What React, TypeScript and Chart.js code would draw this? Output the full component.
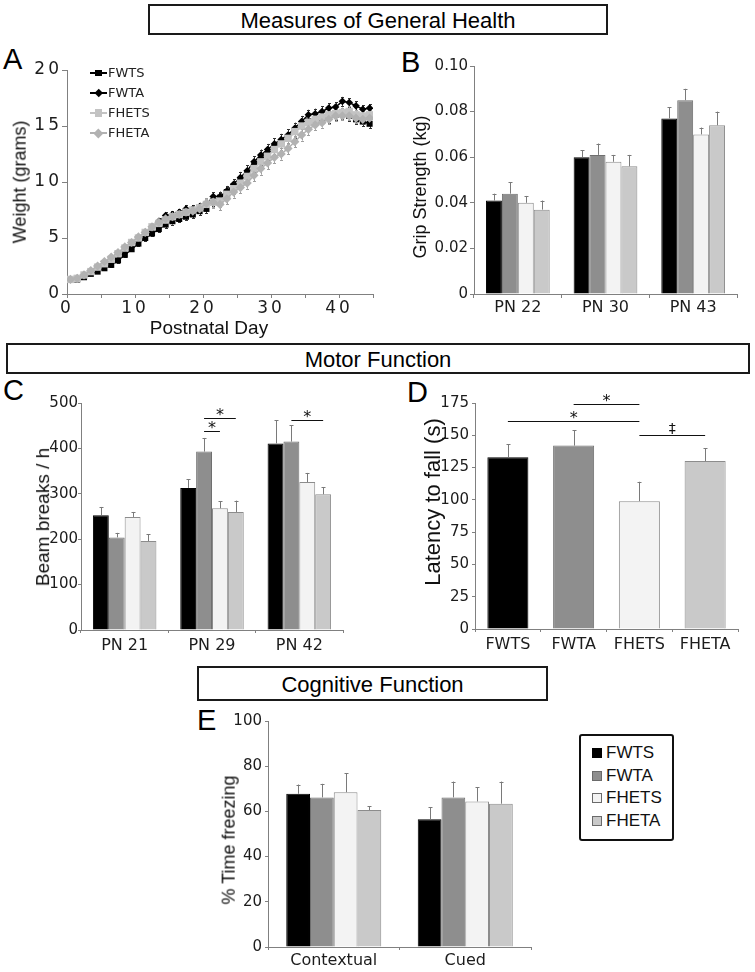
import React, { useEffect, useRef } from 'react';
import { Chart, registerables } from 'chart.js';

Chart.register(...registerables);

const TICK_FONT = 'DejaVu Sans';
const TITLE_FONT = 'Liberation Sans';
Chart.defaults.font.family = TICK_FONT;

// ---------------- data ----------------
const groupNames = ['FWTS', 'FWTA', 'FHETS', 'FHETA'];

// Panel A: body weight by postnatal day
const postnatalDays = [0, 1, 2, 3, 4, 5, 6, 7, 8, 9, 10, 11, 12, 13, 14, 15, 16, 17, 18, 19, 20, 21, 22, 23, 24, 25, 26, 27, 28, 29, 30, 31, 32, 33, 34, 35, 36, 37, 38, 39, 40, 41, 42, 43, 44];
const weightFWTS = [1.3, 1.3, 1.5, 1.8, 2.0, 2.3, 2.6, 3.0, 3.5, 4.0, 4.5, 5.0, 5.4, 5.8, 6.2, 6.5, 6.7, 6.9, 7.1, 7.4, 7.6, 8.3, 8.6, 9.1, 9.6, 10.1, 10.7, 11.4, 12.0, 12.5, 13.0, 13.4, 13.9, 14.5, 15.0, 15.4, 15.6, 15.7, 15.8, 16.0, 16.1, 15.9, 15.6, 15.4, 15.2];
const weightFWTA = [1.3, 1.4, 1.6, 1.9, 2.3, 2.7, 3.1, 3.5, 4.0, 4.5, 5.0, 5.5, 6.0, 6.5, 7.0, 7.1, 7.3, 7.6, 7.6, 7.8, 8.0, 8.7, 8.7, 9.2, 9.8, 10.4, 11.0, 11.8, 12.4, 12.9, 13.4, 13.8, 14.2, 14.8, 15.4, 16.0, 16.1, 16.3, 16.6, 16.7, 17.2, 17.1, 16.8, 16.5, 16.6];
const weightFHETS = [1.3, 1.4, 1.7, 2.0, 2.4, 2.7, 3.1, 3.6, 4.1, 4.6, 5.0, 5.5, 6.0, 6.3, 6.6, 6.9, 7.1, 7.3, 7.5, 7.7, 8.0, 8.2, 8.3, 8.9, 9.4, 9.9, 10.5, 11.2, 11.8, 12.3, 12.9, 13.4, 13.9, 14.5, 15.0, 15.3, 15.6, 15.8, 16.0, 16.1, 16.2, 16.3, 16.0, 15.9, 16.0];
const weightFHETA = [1.3, 1.4, 1.7, 2.1, 2.5, 2.9, 3.3, 3.7, 4.2, 4.6, 5.1, 5.5, 6.0, 6.4, 6.7, 6.9, 7.1, 7.3, 7.4, 7.6, 8.1, 8.2, 8.0, 8.5, 9.1, 9.5, 9.9, 10.6, 11.2, 11.7, 12.2, 12.5, 13.0, 13.6, 14.2, 14.7, 15.1, 15.3, 15.6, 15.9, 15.9, 15.9, 15.7, 15.6, 15.7];
const weightErrFWTS = [0.1, 0.1, 0.1, 0.1, 0.15, 0.15, 0.15, 0.2, 0.2, 0.2, 0.2, 0.25, 0.25, 0.25, 0.3, 0.3, 0.3, 0.3, 0.35, 0.35, 0.4, 0.4, 0.4, 0.45, 0.45, 0.45, 0.5, 0.5, 0.5, 0.5, 0.5, 0.5, 0.55, 0.55, 0.55, 0.5, 0.5, 0.5, 0.5, 0.5, 0.5, 0.45, 0.45, 0.4, 0.4];
const weightErrFWTA = [0.1, 0.1, 0.1, 0.15, 0.15, 0.15, 0.2, 0.2, 0.2, 0.25, 0.25, 0.25, 0.3, 0.3, 0.3, 0.3, 0.3, 0.35, 0.35, 0.35, 0.4, 0.4, 0.45, 0.45, 0.45, 0.5, 0.5, 0.5, 0.5, 0.5, 0.5, 0.5, 0.5, 0.5, 0.5, 0.45, 0.45, 0.45, 0.45, 0.4, 0.4, 0.4, 0.4, 0.35, 0.35];
const weightErrFHETS = [0.1, 0.1, 0.1, 0.1, 0.15, 0.15, 0.2, 0.2, 0.2, 0.2, 0.25, 0.25, 0.3, 0.3, 0.3, 0.3, 0.35, 0.35, 0.35, 0.4, 0.45, 0.45, 0.5, 0.5, 0.5, 0.5, 0.5, 0.5, 0.5, 0.5, 0.5, 0.5, 0.5, 0.5, 0.5, 0.5, 0.5, 0.45, 0.45, 0.45, 0.45, 0.45, 0.4, 0.4, 0.4];
const weightErrFHETA = [0.1, 0.1, 0.1, 0.15, 0.15, 0.15, 0.2, 0.2, 0.25, 0.25, 0.25, 0.3, 0.3, 0.3, 0.3, 0.35, 0.35, 0.35, 0.35, 0.4, 0.45, 0.5, 0.5, 0.5, 0.5, 0.5, 0.5, 0.55, 0.55, 0.55, 0.5, 0.5, 0.5, 0.5, 0.5, 0.5, 0.45, 0.45, 0.45, 0.45, 0.4, 0.4, 0.4, 0.4, 0.4];
const weightTickLabels = ['0', '10', '20', '30', '40'];

// Panel B: grip strength (kg)
const gripDays = ['PN 22', 'PN 30', 'PN 43'];
const gripFWTS = [0.041, 0.060, 0.077];
const gripFWTA = [0.044, 0.061, 0.085];
const gripFHETS = [0.040, 0.058, 0.070];
const gripFHETA = [0.037, 0.056, 0.074];
const gripErrFWTS = [0.003, 0.003, 0.005];
const gripErrFWTA = [0.005, 0.005, 0.005];
const gripErrFHETS = [0.003, 0.003, 0.003];
const gripErrFHETA = [0.004, 0.005, 0.006];

// Panel C: beam breaks per hour
const beamDays = ['PN 21', 'PN 29', 'PN 42'];
const beamFWTS = [253, 313, 411];
const beamFWTA = [204, 393, 415];
const beamFHETS = [249, 268, 326];
const beamFHETA = [196, 260, 299];
const beamErrFWTS = [18, 19, 51];
const beamErrFWTA = [10, 30, 36];
const beamErrFHETS = [11, 16, 20];
const beamErrFHETA = [15, 25, 16];
const beamSig = [
  { fromSet: 1, fromIdx: 1, toSet: 2, toIdx: 1, level: 439, mark: '*' },
  { fromSet: 1, fromIdx: 1, toSet: 3, toIdx: 1, level: 466, mark: '*' },
  { fromSet: 1, fromIdx: 2, toSet: 3, toIdx: 2, level: 463, mark: '*' },
];

// Panel D: rotarod latency to fall (s)
const rotarodGroups = ['FWTS', 'FWTA', 'FHETS', 'FHETA'];
const rotarodMean = [133, 142, 99, 130];
const rotarodErr = [10, 12, 15, 10];
const rotarodSig = [
  { fromSet: 0, fromIdx: 0, toSet: 0, toIdx: 2, level: 161, mark: '*' },
  { fromSet: 0, fromIdx: 1, toSet: 0, toIdx: 2, level: 174, mark: '*' },
  { fromSet: 0, fromIdx: 2, toSet: 0, toIdx: 3, level: 150, mark: '‡' },
];

// Panel E: % time freezing
const fearTests = ['Contextual', 'Cued'];
const freezeFWTS = [67.8, 56.5];
const freezeFWTA = [66.2, 66.2];
const freezeFHETS = [68.5, 64.4];
const freezeFHETA = [60.6, 63.4];
const freezeErrFWTS = [4.1, 5.3];
const freezeErrFWTA = [6.0, 7.0];
const freezeErrFHETS = [8.4, 6.2];
const freezeErrFHETA = [1.6, 9.8];

// ---------------- styles ----------------
const barFill = ['#000000', '#8e8e8e', '#f3f3f3', '#c9c9c9'];
const barEdge = ['#000000', '#6f6f6f', '#8c8c8c', '#8c8c8c'];
const lineColor = ['#000000', '#000000', '#c3c3c3', '#b2b2b2'];
const lineErrColor = ['#333333', '#333333', '#a8a8a8', '#a0a0a0'];
const lineShape = ['rect', 'rectRot', 'rect', 'rectRot'];
const lineRadius = [4.3, 3.8, 5.2, 4.6];
const axisGrey = '#808080';
const tickInk = '#1c1c1c';

type Box = { cl: number; ct: number; cw: number; ch: number; pl: number; pt: number; pr: number; pb: number };

const boxA: Box = { cl: 0, ct: 40, cw: 390, ch: 300, pl: 67, pt: 70, pr: 373, pb: 294 };
const boxB: Box = { cl: 380, ct: 40, cw: 375, ch: 300, pl: 474, pt: 66, pr: 737, pb: 294 };
const boxC: Box = { cl: 0, ct: 380, cw: 380, ch: 285, pl: 81, pt: 403, pr: 343, pb: 630 };
const boxD: Box = { cl: 380, ct: 380, cw: 375, ch: 285, pl: 475, pt: 403, pr: 738, pb: 629 };
const boxE: Box = { cl: 180, ct: 705, cw: 380, ch: 267, pl: 268, pt: 721, pr: 531, pb: 947 };

// ---------------- plugins ----------------
const errorBars = {
  id: 'errorBars',
  beforeDatasetsDraw(chart: any, _a: any, opts: any) {
    if (opts && opts.under) drawErrors(chart, opts);
  },
  afterDatasetsDraw(chart: any, _a: any, opts: any) {
    if (!opts || !opts.under) drawErrors(chart, opts || {});
  },
};

function drawErrors(chart: any, opts: any) {
  const ctx = chart.ctx;
  const ys = chart.scales.y;
  const cap = opts.cap ?? 2;
  ctx.save();
  ctx.lineWidth = 1;
  chart.data.datasets.forEach((ds: any, di: number) => {
    if (!ds.errors) return;
    const meta = chart.getDatasetMeta(di);
    meta.data.forEach((el: any, i: number) => {
      const raw = ds.data[i];
      const v = typeof raw === 'number' ? raw : raw.y;
      const e = ds.errors[i];
      const x = Math.round(el.x) + 0.5;
      const yTop = ys.getPixelForValue(v + e);
      const yBot = opts.both ? ys.getPixelForValue(v - e) : el.y;
      ctx.strokeStyle = ds.errorColor || '#7a7a7a';
      ctx.beginPath();
      ctx.moveTo(x, yBot);
      ctx.lineTo(x, yTop);
      ctx.moveTo(x - cap, Math.round(yTop) + 0.5);
      ctx.lineTo(x + cap, Math.round(yTop) + 0.5);
      if (opts.both) {
        ctx.moveTo(x - cap, Math.round(yBot) + 0.5);
        ctx.lineTo(x + cap, Math.round(yBot) + 0.5);
      }
      ctx.stroke();
    });
  });
  ctx.restore();
}

const sigBars = {
  id: 'sigBars',
  afterDatasetsDraw(chart: any, _a: any, opts: any) {
    const items = (opts && opts.items) || [];
    const ctx = chart.ctx;
    ctx.save();
    items.forEach((it: any) => {
      const x0 = chart.getDatasetMeta(it.fromSet).data[it.fromIdx].x;
      const x1 = chart.getDatasetMeta(it.toSet).data[it.toIdx].x;
      const y = Math.round(chart.scales.y.getPixelForValue(it.level)) + 0.5;
      ctx.strokeStyle = '#111';
      ctx.lineWidth = 1;
      ctx.beginPath();
      ctx.moveTo(x0, y);
      ctx.lineTo(x1, y);
      ctx.stroke();
      ctx.fillStyle = '#111';
      ctx.textAlign = 'center';
      ctx.textBaseline = 'alphabetic';
      if (it.mark === '*') {
        ctx.font = `16px ${TICK_FONT}`;
        ctx.fillText(it.mark, (x0 + x1) / 2, y + 1);
      } else {
        ctx.font = `14px ${TICK_FONT}`;
        ctx.fillText(it.mark, (x0 + x1) / 2, y - 3);
      }
    });
    ctx.restore();
  },
};

const spacedText = {
  id: 'spacedText',
  beforeDraw(chart: any, _a: any, opts: any) {
    if (opts && opts.spacing) (chart.ctx as any).letterSpacing = opts.spacing;
  },
  afterDraw(chart: any) {
    (chart.ctx as any).letterSpacing = '0px';
  },
};

// ---------------- axis builders ----------------
function yAxis(b: Box, min: number, max: number, step: number, size: number, tl: number, pad: number, fmt?: (v: number) => string) {
  return {
    type: 'linear',
    min,
    max,
    afterFit: (s: any) => {
      s.width = b.pl - b.cl;
    },
    border: { display: true, color: axisGrey, width: 1 },
    grid: { display: true, drawOnChartArea: false, drawTicks: true, tickLength: tl, color: axisGrey },
    ticks: {
      stepSize: step,
      padding: pad,
      color: tickInk,
      font: { family: TICK_FONT, size },
      callback: fmt ? (v: any) => fmt(Number(v)) : (v: any) => String(v),
    },
  };
}

function xCategory(b: Box, tl: number, pad: number) {
  return {
    type: 'category',
    afterFit: (s: any) => {
      s.height = b.ct + b.ch - b.pb;
    },
    border: { display: true, color: axisGrey, width: 1 },
    grid: { display: true, drawOnChartArea: false, drawTicks: true, tickLength: tl, color: axisGrey, offset: true },
    ticks: { padding: pad, color: tickInk, font: { family: TICK_FONT, size: 16 }, maxRotation: 0, minRotation: 0, autoSkip: false },
  };
}

function baseOptions(b: Box) {
  return {
    responsive: false,
    maintainAspectRatio: false,
    animation: false,
    events: [],
    layout: { padding: { left: 0, top: b.pt - b.ct, right: b.cl + b.cw - b.pr, bottom: 0 } },
  };
}

function groupedBars(values: number[][], errors: number[][], catPct: number) {
  return values.map((vals, k) => ({
    label: groupNames[k],
    data: vals,
    errors: errors[k],
    backgroundColor: barFill[k],
    borderColor: barEdge[k],
    borderWidth: 1,
    categoryPercentage: catPct,
    barPercentage: 1,
    errorColor: '#7a7a7a',
  }));
}

// ---------------- chart configs ----------------
function buildA() {
  const series = [weightFWTS, weightFWTA, weightFHETS, weightFHETA];
  const errs = [weightErrFWTS, weightErrFWTA, weightErrFHETS, weightErrFHETA];
  return {
    type: 'line',
    data: {
      datasets: series.map((s, k) => ({
        label: groupNames[k],
        // points sit in the middle of each day, as in the source plot
        data: s.map((w, i) => ({ x: postnatalDays[i] + 0.5, y: w })),
        errors: errs[k],
        errorColor: lineErrColor[k],
        borderColor: lineColor[k],
        backgroundColor: lineColor[k],
        pointBackgroundColor: lineColor[k],
        pointBorderColor: lineColor[k],
        pointBorderWidth: 0,
        pointStyle: lineShape[k],
        pointRadius: lineRadius[k],
        borderWidth: 1.5,
        tension: 0,
        order: 3 - k,
      })),
    },
    options: {
      ...baseOptions(boxA),
      scales: {
        x: {
          type: 'linear',
          min: 0,
          max: 45,
          afterFit: (s: any) => {
            s.height = boxA.ct + boxA.ch - boxA.pb;
          },
          border: { display: true, color: axisGrey, width: 1 },
          grid: { display: true, drawOnChartArea: false, drawTicks: true, tickLength: 4, color: axisGrey },
          ticks: {
            stepSize: 5,
            padding: 0,
            color: tickInk,
            maxRotation: 0,
            autoSkip: false,
            font: { family: TICK_FONT, size: 17 },
            callback: (v: any) => (weightTickLabels.includes(String(v)) ? String(v) : ''),
          },
        },
        y: yAxis(boxA, 0, 20, 5, 17, 5, 0),
      },
      plugins: {
        legend: { display: false },
        tooltip: { enabled: false },
        errorBars: { under: true, both: true, cap: 1.5 },
        spacedText: { spacing: '3px' },
      },
    },
    plugins: [errorBars, spacedText],
  };
}

function buildB() {
  return {
    type: 'bar',
    data: {
      labels: gripDays,
      datasets: groupedBars([gripFWTS, gripFWTA, gripFHETS, gripFHETA], [gripErrFWTS, gripErrFWTA, gripErrFHETS, gripErrFHETA], 0.727),
    },
    options: {
      ...baseOptions(boxB),
      scales: {
        x: xCategory(boxB, 4, 0),
        y: yAxis(boxB, 0, 0.1, 0.02, 15, 4, 2, (v) => (v === 0 ? '0' : v.toFixed(2))),
      },
      plugins: { legend: { display: false }, tooltip: { enabled: false }, errorBars: { cap: 2 } },
    },
    plugins: [errorBars],
  };
}

function buildC() {
  return {
    type: 'bar',
    data: {
      labels: beamDays,
      datasets: groupedBars([beamFWTS, beamFWTA, beamFHETS, beamFHETA], [beamErrFWTS, beamErrFWTA, beamErrFHETS, beamErrFHETA], 0.727),
    },
    options: {
      ...baseOptions(boxC),
      scales: {
        x: xCategory(boxC, 3, 3),
        y: yAxis(boxC, 0, 500, 100, 15, 3, 0),
      },
      plugins: { legend: { display: false }, tooltip: { enabled: false }, errorBars: { cap: 2 }, sigBars: { items: beamSig } },
    },
    plugins: [errorBars, sigBars],
  };
}

function buildD() {
  return {
    type: 'bar',
    data: {
      labels: rotarodGroups,
      datasets: [
        {
          label: 'Latency',
          data: rotarodMean,
          errors: rotarodErr,
          backgroundColor: barFill,
          borderColor: barEdge,
          borderWidth: 1,
          categoryPercentage: 1,
          barPercentage: 0.624,
          errorColor: '#7a7a7a',
        },
      ],
    },
    options: {
      ...baseOptions(boxD),
      scales: {
        x: xCategory(boxD, 3, 3),
        y: yAxis(boxD, 0, 175, 25, 15, 3, 3),
      },
      plugins: { legend: { display: false }, tooltip: { enabled: false }, errorBars: { cap: 2 }, sigBars: { items: rotarodSig } },
    },
    plugins: [errorBars, sigBars],
  };
}

function buildE() {
  return {
    type: 'bar',
    data: {
      labels: fearTests,
      datasets: groupedBars([freezeFWTS, freezeFWTA, freezeFHETS, freezeFHETA], [freezeErrFWTS, freezeErrFWTA, freezeErrFHETS, freezeErrFHETA], 0.7225),
    },
    options: {
      ...baseOptions(boxE),
      scales: {
        x: xCategory(boxE, 3, 1),
        y: yAxis(boxE, 0, 100, 20, 15, 3, 3),
      },
      plugins: { legend: { display: false }, tooltip: { enabled: false }, errorBars: { cap: 2 } },
    },
    plugins: [errorBars],
  };
}

// ---------------- components ----------------
function ChartCanvas({ box, build }: { box: Box; build: () => any }) {
  const ref = useRef<HTMLCanvasElement | null>(null);
  useEffect(() => {
    if (!ref.current) return;
    const chart = new Chart(ref.current, build() as any);
    return () => chart.destroy();
  }, []);
  return (
    <div style={{ position: 'absolute', left: box.cl, top: box.ct, width: box.cw, height: box.ch }}>
      <canvas ref={ref} width={box.cw} height={box.ch} style={{ display: 'block', width: box.cw, height: box.ch }} />
    </div>
  );
}

function Header({ text, left, top, width, height }: { text: string; left: number; top: number; width: number; height: number }) {
  return (
    <div
      style={{
        position: 'absolute',
        left,
        top,
        width,
        height,
        boxSizing: 'border-box',
        border: '2px solid #1a1a1a',
        display: 'flex',
        alignItems: 'center',
        justifyContent: 'center',
        paddingTop: 3,
        fontFamily: TITLE_FONT,
        fontSize: 22,
        color: '#000',
        background: '#fff',
      }}
    >
      {text}
    </div>
  );
}

function PanelLetter({ text, left, top }: { text: string; left: number; top: number }) {
  return (
    <div style={{ position: 'absolute', left, top, fontFamily: TITLE_FONT, fontSize: 29, lineHeight: 1, color: '#000' }}>{text}</div>
  );
}

function AxisTitle({ text, cx, cy, size, vertical }: { text: string; cx: number; cy: number; size: number; vertical: boolean }) {
  return (
    <div
      style={{
        position: 'absolute',
        left: cx,
        top: cy,
        transform: vertical ? 'translate(-50%, -50%) rotate(-90deg)' : 'translate(-50%, -50%)',
        whiteSpace: 'nowrap',
        fontFamily: TITLE_FONT,
        fontSize: size,
        lineHeight: 1.15,
        color: '#111',
      }}
    >
      {text}
    </div>
  );
}

function LineLegend() {
  const rowsY = [73, 93, 113, 133];
  return (
    <>
      {groupNames.map((name, k) => {
        const cy = rowsY[k];
        const isDiamond = lineShape[k] === 'rectRot';
        const m = isDiamond ? lineRadius[k] * 1.45 : lineRadius[k] * 1.41;
        return (
          <div key={name}>
            <div style={{ position: 'absolute', left: 90, top: cy - 0.75, width: 17, height: 1.5, background: lineColor[k] }} />
            <div
              style={{
                position: 'absolute',
                left: 98.5 - m / 2,
                top: cy - m / 2,
                width: m,
                height: m,
                background: lineColor[k],
                transform: isDiamond ? 'rotate(45deg)' : undefined,
              }}
            />
            <div style={{ position: 'absolute', left: 108, top: cy - 8, height: 16, lineHeight: '16px', fontFamily: TICK_FONT, fontSize: 13, color: '#222' }}>
              {name}
            </div>
          </div>
        );
      })}
    </>
  );
}

function BarLegend() {
  const rowsY = [753, 776, 798, 821];
  return (
    <>
      <div
        style={{
          position: 'absolute',
          left: 579,
          top: 734,
          width: 95,
          height: 107,
          boxSizing: 'border-box',
          border: '2px solid #111',
          borderRadius: 3,
        }}
      />
      {groupNames.map((name, k) => (
        <div key={name}>
          <div
            style={{
              position: 'absolute',
              left: 592,
              top: rowsY[k] - 5,
              width: 10,
              height: 10,
              boxSizing: 'border-box',
              background: barFill[k],
              border: `1px solid ${k === 0 ? '#000' : '#6a6a6a'}`,
            }}
          />
          <div style={{ position: 'absolute', left: 606, top: rowsY[k] - 10, height: 20, lineHeight: '20px', fontFamily: TITLE_FONT, fontSize: 17, color: '#111' }}>
            {name}
          </div>
        </div>
      ))}
    </>
  );
}

export default function App() {
  return (
    <div style={{ position: 'absolute', left: 0, top: 0, width: 755, height: 972, background: '#fff', overflow: 'hidden' }}>
      <Header text="Measures of General Health" left={148} top={4} width={460} height={31} />
      <Header text="Motor Function" left={6} top={343} width={744} height={31} />
      <Header text="Cognitive Function" left={197} top={666} width={351} height={35} />

      <PanelLetter text="A" left={3} top={45} />
      <PanelLetter text="B" left={401} top={48} />
      <PanelLetter text="C" left={3} top={376} />
      <PanelLetter text="D" left={407} top={378} />
      <PanelLetter text="E" left={197} top={706} />

      <ChartCanvas box={boxA} build={buildA} />
      <ChartCanvas box={boxB} build={buildB} />
      <ChartCanvas box={boxC} build={buildC} />
      <ChartCanvas box={boxD} build={buildD} />
      <ChartCanvas box={boxE} build={buildE} />

      <AxisTitle text="Weight (grams)" cx={20} cy={182} size={18} vertical />
      <AxisTitle text="Postnatal Day" cx={209} cy={328} size={19} vertical={false} />
      <AxisTitle text="Grip Strength (kg)" cx={420} cy={187} size={18} vertical />
      <AxisTitle text="Beam breaks / h" cx={43} cy={517} size={19} vertical />
      <AxisTitle text="Latency to fall (s)" cx={433} cy={502} size={22} vertical />
      <AxisTitle text="% Time freezing" cx={229} cy={840} size={18} vertical />

      <LineLegend />
      <BarLegend />
    </div>
  );
}
